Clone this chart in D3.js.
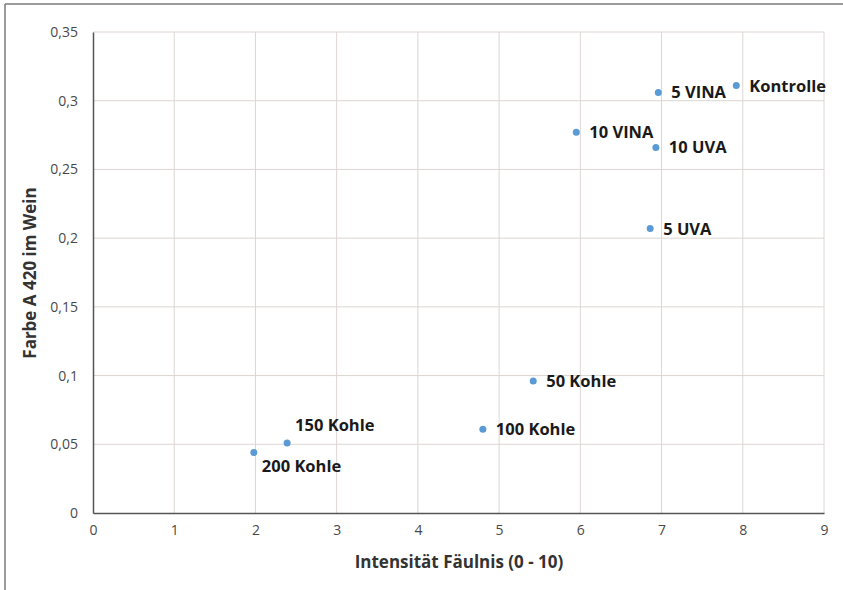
<!DOCTYPE html>
<html><head><meta charset="utf-8">
<script src="https://cdn.jsdelivr.net/npm/d3@7"></script>
<style>body{margin:0;background:#fff}svg{display:block}</style>
</head><body>
<script>
const labels = ["200 Kohle","150 Kohle","100 Kohle","50 Kohle","5 UVA","10 UVA","10 VINA","5 VINA","Kontrolle"];
const xValues = [1.98, 2.39, 4.80, 5.42, 6.86, 6.93, 5.95, 6.96, 7.92];
const yValues = [0.044, 0.051, 0.061, 0.096, 0.207, 0.266, 0.277, 0.306, 0.311];
const labelPos = ["below","above","right","right","right","right","right","right","right"];
const xTicks = [0,1,2,3,4,5,6,7,8,9];
const yTicks = [0,0.05,0.1,0.15,0.2,0.25,0.3,0.35];
const yTickLabels = ["0","0,05","0,1","0,15","0,2","0,25","0,3","0,35"];

const W = 843, H = 590;
const svg = d3.select("body").append("svg").attr("width", W).attr("height", H);
const font = "'Open Sans', 'Liberation Sans', sans-serif";

// outer frame (left & top)
svg.append("line").attr("x1",5).attr("x2",5).attr("y1",4).attr("y2",H).attr("stroke","#7a7a7a").attr("stroke-width",1.5);
svg.append("line").attr("x1",5).attr("x2",W).attr("y1",4).attr("y2",4).attr("stroke","#7a7a7a").attr("stroke-width",1.5);

const x = d3.scaleLinear().domain([0,9]).range([93,824]);
const y = d3.scaleLinear().domain([0,0.35]).range([513,32]);

// grid
svg.append("g").selectAll("line").data(xTicks.slice(1)).join("line")
  .attr("x1",d=>x(d)).attr("x2",d=>x(d)).attr("y1",y(0)).attr("y2",y(0.35))
  .attr("stroke","#dcd6d3").attr("stroke-width",1);
svg.append("g").selectAll("line").data(yTicks.slice(1)).join("line")
  .attr("x1",x(0)).attr("x2",x(9)).attr("y1",d=>y(d)).attr("y2",d=>y(d))
  .attr("stroke","#dcd6d3").attr("stroke-width",1);

// axes
const xAxis = svg.append("g").attr("transform",`translate(0,${y(0)})`)
  .call(d3.axisBottom(x).tickValues(xTicks).tickSize(0).tickPadding(12).tickFormat(d3.format("d")));
const yAxis = svg.append("g").attr("transform",`translate(${x(0)},0)`)
  .call(d3.axisLeft(y).tickValues(yTicks).tickSize(0).tickPadding(15).tickFormat((d,i)=>yTickLabels[i]));
[xAxis,yAxis].forEach(g=>{
  g.select(".domain").attr("stroke","#555").attr("stroke-width",1.5);
  g.selectAll("text").attr("font-family",font).attr("font-size",14).attr("fill","#4a4a4a");
});

// points
svg.append("g").selectAll("circle").data(xValues).join("circle")
  .attr("cx",d=>x(d)).attr("cy",(d,i)=>y(yValues[i])).attr("r",3.5).attr("fill","#5b9bd5");

// labels
svg.append("g").selectAll("text").data(labels).join("text")
  .attr("x",(d,i)=>x(xValues[i]) + (labelPos[i]==="right"?13:8))
  .attr("y",(d,i)=>y(yValues[i]) + (labelPos[i]==="right"?6:labelPos[i]==="above"?-12:19))
  .attr("font-family",font).attr("font-weight","bold").attr("font-size",16.5).attr("fill","#1a1a1a")
  .text(d=>d);

// axis titles
svg.append("text").attr("x",459).attr("y",568).attr("text-anchor","middle")
  .attr("font-family",font).attr("font-weight","bold").attr("font-size",17).attr("fill","#333")
  .text("Intensität Fäulnis (0 - 10)");
svg.append("text").attr("transform","translate(36,273) rotate(-90)").attr("text-anchor","middle")
  .attr("font-family",font).attr("font-weight","bold").attr("font-size",17).attr("fill","#333")
  .text("Farbe A 420 im Wein");
</script>
</body></html>
